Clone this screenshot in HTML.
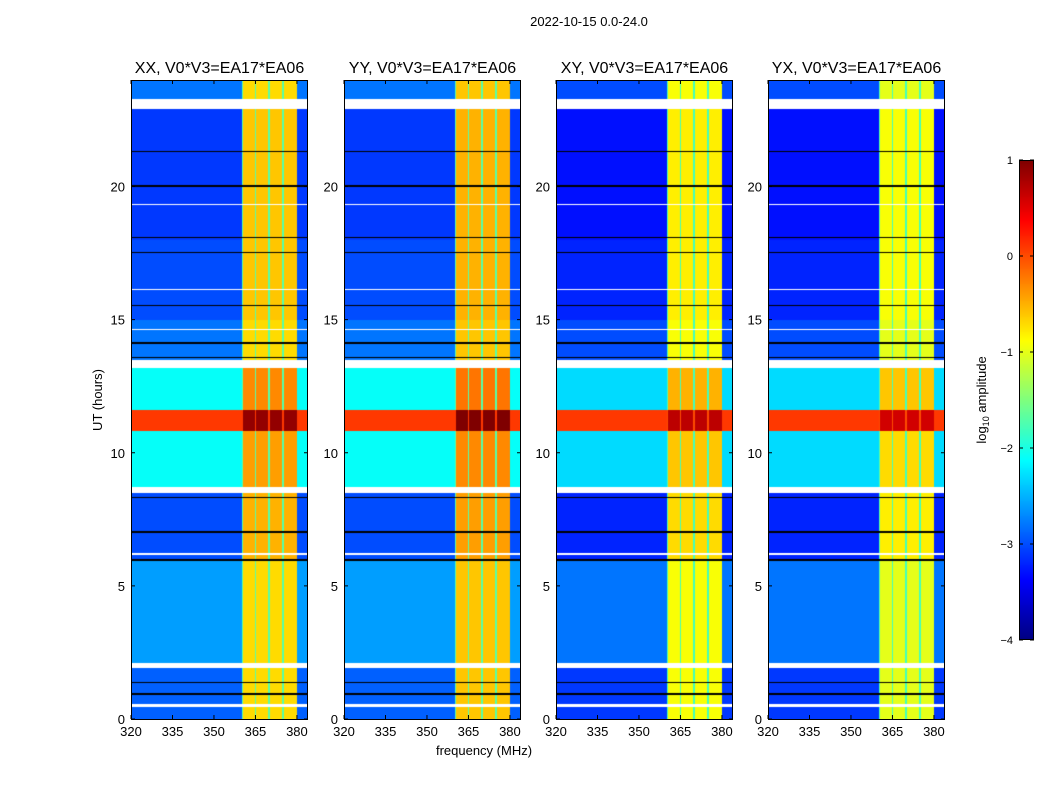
<!DOCTYPE html>
<html><head><meta charset="utf-8"><style>
body{margin:0;background:#fff;width:1050px;height:800px;overflow:hidden;position:relative;font-family:"Liberation Sans",sans-serif}
canvas{position:absolute}
svg{position:absolute;left:0;top:0}
</style></head><body>
<div id="root"></div>
<svg id="svg" width="1050" height="800"></svg>
<script>
// ---- data ----
const panelTitles=["XX, V0*V3=EA17*EA06","YY, V0*V3=EA17*EA06","XY, V0*V3=EA17*EA06","YX, V0*V3=EA17*EA06"];
const xTicks=[320,335,350,365,380];
const yTicks=[0,5,10,15,20];
const cbTicks=[1,0,-1,-2,-3,-4];
const bandStart=[0,2,6,8.7,10.8,11.6,13.5,15,18,23.3];
const bandEnd=[2,6,8.5,10.8,11.6,13.2,15,18,23,24];
const bgLevel=[-2.9,-2.6,-3.0,-2.1,0.1,-2.1,-2.8,-3.0,-3.1,-2.8];
const rfiLevel=[-0.7,-0.7,-0.5,-0.4,0.9,-0.3,-0.7,-0.6,-0.6,-0.7];
const rfiStart=[360.5,365.2,370.2,375.2];
const rfiEnd=[364.7,369.7,374.7,380];
const panelRfiOffset=[0,0.1,-0.2,-0.3];
const panelBgOffset=[0,0,-0.2,-0.2];
const whiteRows=[[0.45,0.55],[1.9,2.1],[6.15,6.22],[8.5,8.7],[13.2,13.5],[14.6,14.65],[16.1,16.15],[19.3,19.35],[22.9,23.3],[23.0,23.15]];
const blackRows=[[0.9,0.97],[1.35,1.4],[5.95,6.0],[7.0,7.05],[8.3,8.35],[13.55,13.6],[14.1,14.15],[15.5,15.55],[17.5,17.55],[18.05,18.1],[20.0,20.05],[21.3,21.35],[23.1,23.2]];
// ---- geometry ----
const panelX=[131,344,556,768], pw=177, plotTop=80, plotBottom=719;
const fx=(f,i)=>panelX[i]+(f-320)*(pw/64);
const ty=h=>plotBottom-h*(plotBottom-plotTop)/24;
function jet(v){let t=(v+4)/5;t=Math.max(0,Math.min(1,t));
 const r=Math.max(0,Math.min(1,1.5-Math.abs(4*t-3))),g=Math.max(0,Math.min(1,1.5-Math.abs(4*t-2))),b=Math.max(0,Math.min(1,1.5-Math.abs(4*t-1)));
 return [r*255|0,g*255|0,b*255|0];}
function value(f,h,i){
 for(const w of whiteRows) if(h>=w[0]&&h<w[1]) return 'W';
 for(const w of blackRows) if(h>=w[0]&&h<w[1]) return 'K';
 let k=-1;for(let j=0;j<bandStart.length;j++) if(h>=bandStart[j]&&h<bandEnd[j]){k=j;break;}
 if(k<0) return 'W';
 let inR=false;for(let j=0;j<rfiStart.length;j++) if(f>=rfiStart[j]&&f<rfiEnd[j]) inR=true;
 if(inR) return rfiLevel[k]+panelRfiOffset[i];
 if(f>=360&&f<380) return Math.max(bgLevel[k],-1.7)+panelBgOffset[i]*0.5;
 return bgLevel[k]+(bgLevel[k]>-1?0:panelBgOffset[i]);
}
const root=document.getElementById('root');
for(let i=0;i<4;i++){
 const c=document.createElement('canvas');
 
 
 const H=plotBottom-plotTop;
 c.width=pw;c.height=H;c.style.left=panelX[i]+'px';c.style.top=plotTop+'px';
 const ctx=c.getContext('2d'),im=ctx.createImageData(pw,H);
 for(let y=0;y<H;y++){const h=24-(y+0.5)*24/H;
  for(let x=0;x<pw;x++){const f=320+(x+0.5)*64/pw;const v=value(f,h,i);
   let col=v==='W'?[255,255,255]:v==='K'?[0,0,0]:jet(v);
   const p=(y*pw+x)*4;im.data[p]=col[0];im.data[p+1]=col[1];im.data[p+2]=col[2];im.data[p+3]=255;}}
 ctx.putImageData(im,0,0);root.appendChild(c);
}
// colorbar
const cb=document.createElement('canvas');


cb.width=15;cb.height=480;cb.style.left='1019px';cb.style.top='160px';
{const ctx=cb.getContext('2d');for(let y=0;y<480;y++){const c=jet(1-5*y/480);ctx.fillStyle='rgb('+c.join(',')+')';ctx.fillRect(0,y,15,1);}}
root.appendChild(cb);
// svg
const svg=document.getElementById('svg'),NS='http://www.w3.org/2000/svg';
function el(t,a,txt){const e=document.createElementNS(NS,t);for(const k in a)e.setAttribute(k,a[k]);if(txt!=null)e.textContent=txt;svg.appendChild(e);return e;}
let e=el('text',{x:589,y:26,'font-size':13,'text-anchor':'middle'},'2022-10-15 0.0-24.0');


for(let i=0;i<4;i++){
 e=el('rect',{x:panelX[i]+0.5,y:plotTop+0.5,width:pw-1,height:plotBottom-plotTop,fill:'none',stroke:'#000'});
 
 
 e=el('text',{x:panelX[i]+pw/2,y:73,'font-size':16,'text-anchor':'middle'},panelTitles[i]);
 
 
 for(const t of xTicks){const x=fx(t,i);
  el('line',{x1:x,x2:x,y1:plotBottom,y2:plotBottom-4,stroke:'#000'});el('line',{x1:x,x2:x,y1:plotTop,y2:plotTop+4,stroke:'#000'});
  e=el('text',{x:x,y:736,'font-size':13,'text-anchor':'middle'},t);
  
  }
 for(const t of yTicks){const y=ty(t);
  el('line',{x1:panelX[i],x2:panelX[i]+4,y1:y,y2:y,stroke:'#000'});el('line',{x1:panelX[i]+pw,x2:panelX[i]+pw-4,y1:y,y2:y,stroke:'#000'});
  e=el('text',{x:panelX[i]-6,y:y+5,'font-size':13,'text-anchor':'end'},t);
  
  }
}
e=el('text',{x:484,y:755,'font-size':13,'text-anchor':'middle'},'frequency (MHz)');


e=el('text',{x:0,y:0,'font-size':13,'text-anchor':'middle',transform:'translate(102,400) rotate(-90)'},'UT (hours)');


el('rect',{x:1019.5,y:160.5,width:14,height:479,fill:'none',stroke:'#000'});
for(const t of cbTicks){const y=160+(1-t)*96;
 el('line',{x1:1019,x2:1023,y1:y,y2:y,stroke:'#000'});el('line',{x1:1034,x2:1030,y1:y,y2:y,stroke:'#000'});
 e=el('text',{x:1013,y:y+4,'font-size':11,'text-anchor':'end'},t<0?'\u2212'+(-t):String(t));
 
 }
e=el('text',{x:0,y:0,'font-size':13,'text-anchor':'middle',transform:'translate(986,400) rotate(-90)'});
e.innerHTML='log<tspan font-size="9" dy="3">10</tspan><tspan dy="-3"> amplitude</tspan>';


</script>
</body></html>
